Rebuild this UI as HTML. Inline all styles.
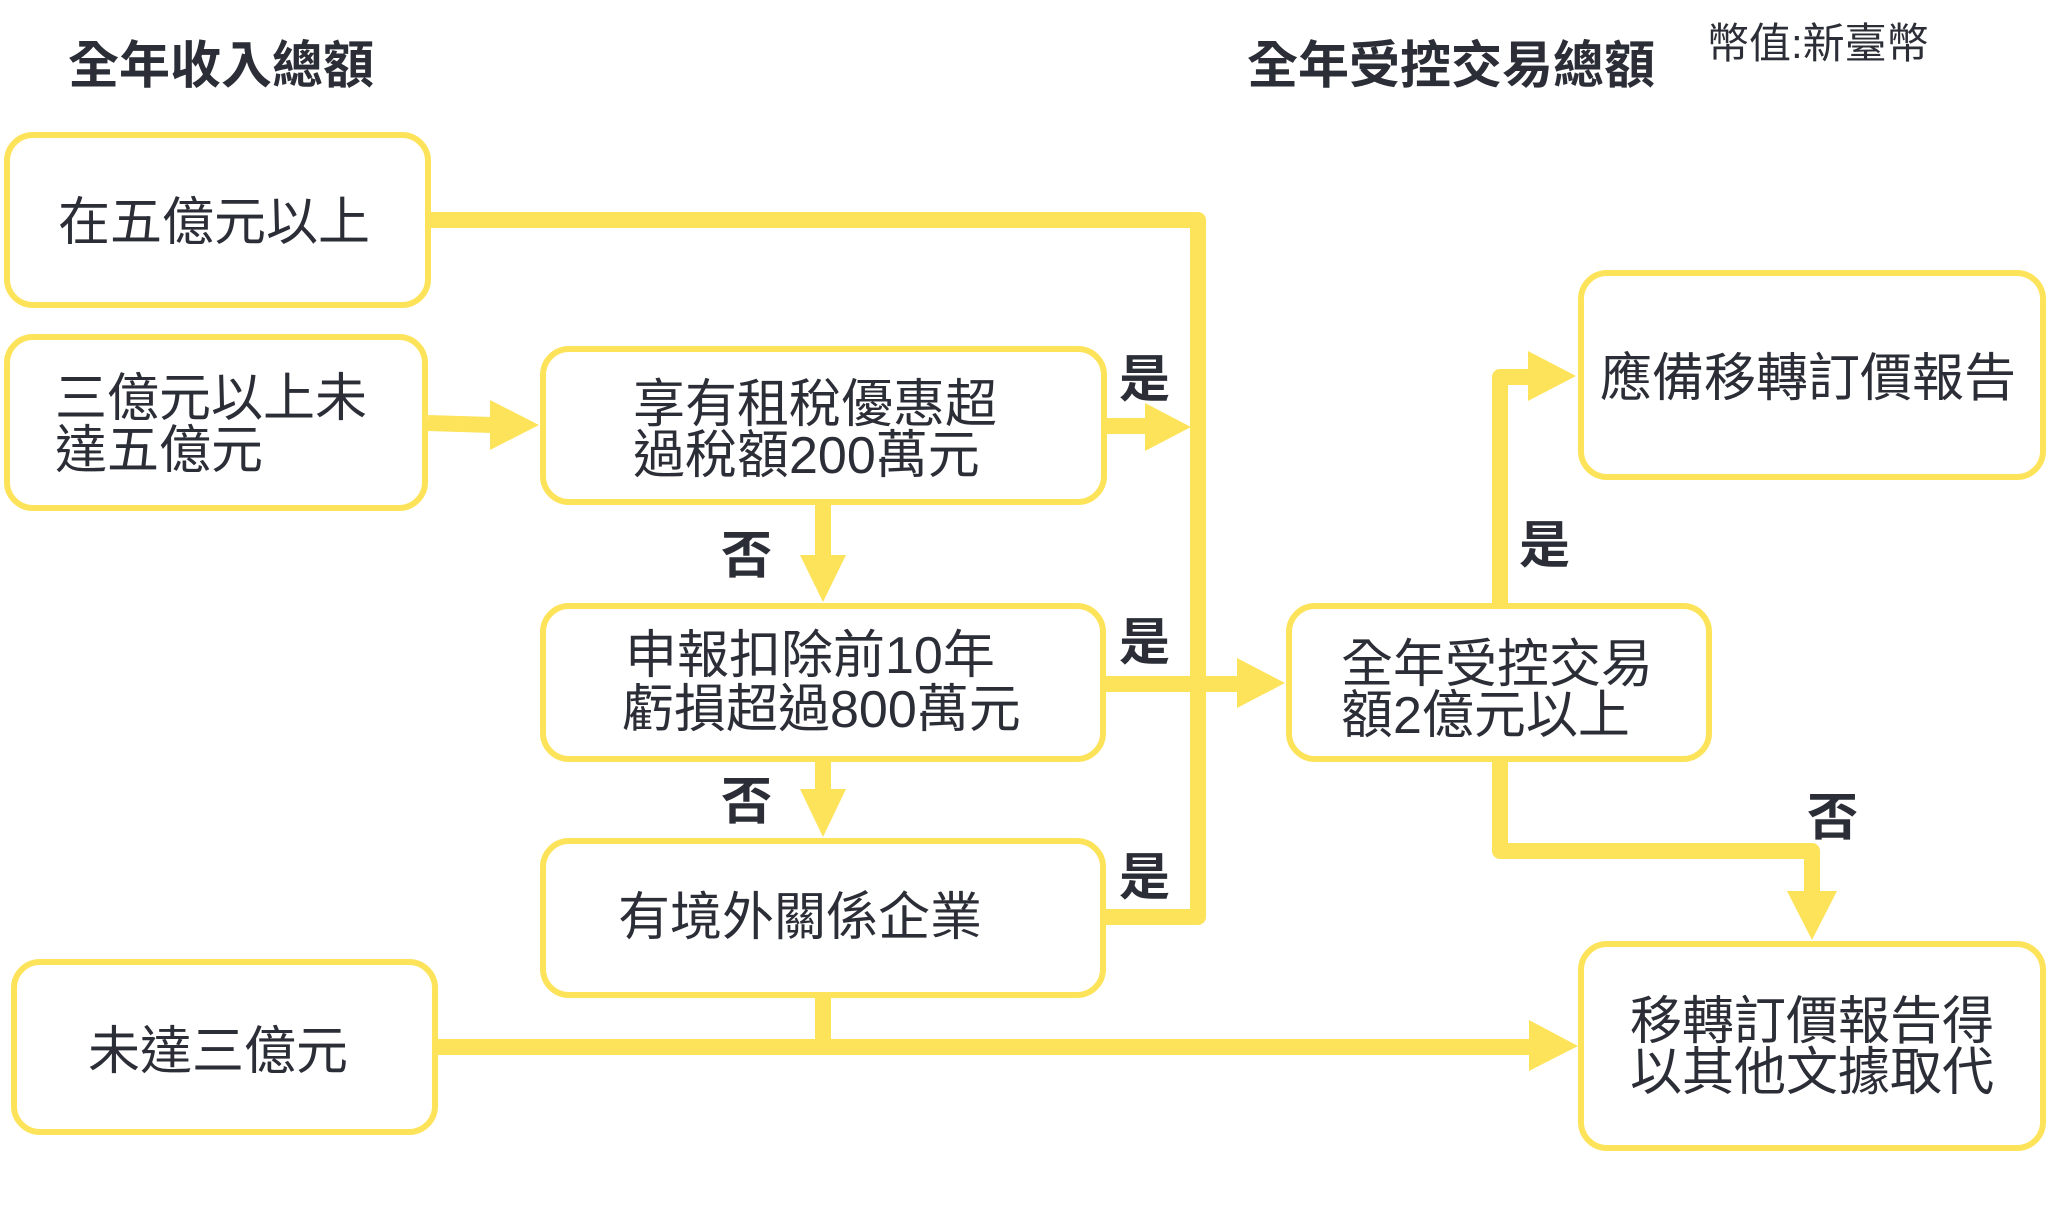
<!DOCTYPE html>
<html>
<head>
<meta charset="utf-8">
<style>
  html, body { margin: 0; padding: 0; background: #ffffff; }
  body { width: 2048px; height: 1209px; overflow: hidden; }
  svg { display: block; }
  text { font-family: "Liberation Sans", "Noto Sans CJK TC", "Noto Sans CJK SC", sans-serif; fill: #2b2e36; }
  .t { font-size: 52px; }
  .h { font-size: 51px; font-weight: 700; }
  .l { font-size: 51px; font-weight: 700; }
</style>
</head>
<body>
<svg width="2048" height="1209" viewBox="0 0 2048 1209" xmlns="http://www.w3.org/2000/svg">
  <rect x="0" y="0" width="2048" height="1209" fill="#ffffff"/>

  <!-- connectors -->
  <g fill="none" stroke="#FDE35A" stroke-width="16" stroke-linejoin="round">
    <path d="M431 220 H1198 V917 H1106"/>
    <path d="M428 423 L492 425"/>
    <path d="M1107 426 H1147"/>
    <path d="M823 505 V557"/>
    <path d="M823 762 V791"/>
    <path d="M1106 684 H1239"/>
    <path d="M823 998 V1047"/>
    <path d="M438 1047 H1531"/>
    <path d="M1500 603 V377 H1530"/>
    <path d="M1500 762 V851 H1812 V893"/>
  </g>
  <g fill="#FDE35A">
    <polygon points="490,400 539,425 490,450"/>
    <polygon points="1145,403 1191,427 1145,451"/>
    <polygon points="800,555 846,555 823,602"/>
    <polygon points="800,789 846,789 823,837"/>
    <polygon points="1237,658 1285,683 1237,708"/>
    <polygon points="1529,1020 1578,1046 1529,1071"/>
    <polygon points="1528,351 1576,376 1528,401"/>
    <polygon points="1787,891 1837,891 1812,940"/>
  </g>

  <!-- boxes -->
  <g fill="#ffffff" stroke="#FDE35A" stroke-width="6">
    <rect x="7" y="135" width="421" height="170" rx="26"/>
    <rect x="7" y="337" width="418" height="171" rx="26"/>
    <rect x="543" y="349" width="561" height="153" rx="26"/>
    <rect x="543" y="606" width="560" height="153" rx="26"/>
    <rect x="543" y="841" width="560" height="154" rx="26"/>
    <rect x="1289" y="606" width="420" height="153" rx="26"/>
    <rect x="1581" y="273" width="462" height="204" rx="26"/>
    <rect x="14" y="962" width="421" height="170" rx="26"/>
    <rect x="1581" y="944" width="462" height="204" rx="26"/>
  </g>

  <!-- titles -->
  <text class="h" x="68" y="83">全年收入總額</text>
  <text class="h" x="1247" y="83">全年受控交易總額</text>
  <text x="1707" y="58" style="font-size:42px">幣值:新臺幣</text>

  <!-- box texts -->
  <text class="t" x="58" y="240">在五億元以上</text>
  <text class="t" x="55" y="416">三億元以上未</text>
  <text class="t" x="55" y="468">達五億元</text>
  <text class="t" x="633" y="422">享有租稅優惠超</text>
  <text class="t" x="633" y="473">過稅額200萬元</text>
  <text class="t" x="625" y="673">申報扣除前10年</text>
  <text class="t" x="622" y="727">虧損超過800萬元</text>
  <text class="t" x="618" y="935">有境外關係企業</text>
  <text class="t" x="88" y="1069">未達三億元</text>
  <text class="t" x="1341" y="682">全年受控交易</text>
  <text class="t" x="1341" y="733">額2億元以上</text>
  <text class="t" x="1600" y="396">應備移轉訂價報告</text>
  <text class="t" x="1630" y="1039">移轉訂價報告得</text>
  <text class="t" x="1630" y="1090">以其他文據取代</text>

  <!-- yes/no labels -->
  <text class="l" x="1119" y="397">是</text>
  <text class="l" x="721" y="573">否</text>
  <text class="l" x="1119" y="660">是</text>
  <text class="l" x="721" y="819">否</text>
  <text class="l" x="1119" y="895">是</text>
  <text class="l" x="1519" y="563">是</text>
  <text class="l" x="1807" y="835">否</text>
</svg>
</body>
</html>
